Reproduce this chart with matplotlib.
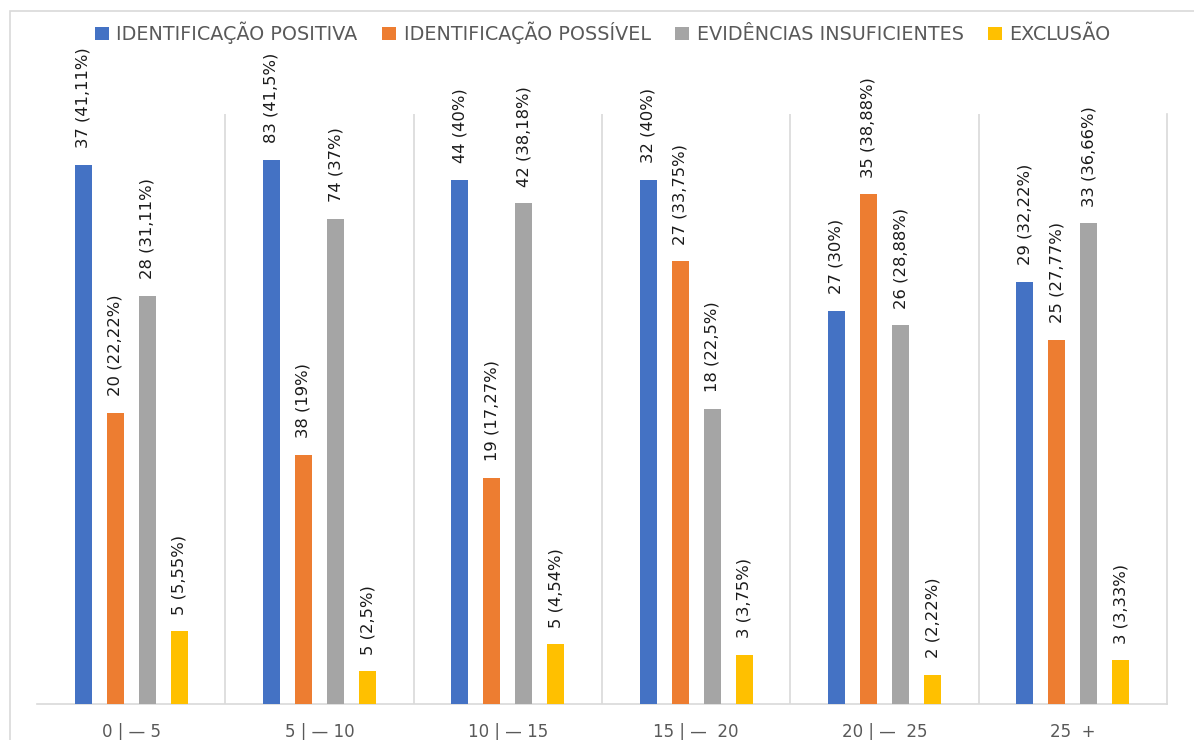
import numpy as np
import matplotlib.pyplot as plt
from matplotlib.patches import Rectangle

categories = ["0 | — 5", "5 | — 10", "10 | — 15", "15 | —  20", "20 | —  25", "25  +"]
series_names = ["IDENTIFICAÇÃO POSITIVA", "IDENTIFICAÇÃO POSSÍVEL",
                "EVIDÊNCIAS INSUFICIENTES", "EXCLUSÃO"]
colors = ["#4472C4", "#ED7D31", "#A5A5A5", "#FFC000"]

counts = [
    [37, 83, 44, 32, 27, 29],
    [20, 38, 19, 27, 35, 25],
    [28, 74, 42, 18, 26, 33],
    [5, 5, 5, 3, 2, 3],
]
percents = [
    [41.11, 41.5, 40, 40, 30, 32.22],
    [22.22, 19, 17.27, 33.75, 38.88, 27.77],
    [31.11, 37, 38.18, 22.5, 28.88, 36.66],
    [5.55, 2.5, 4.54, 3.75, 2.22, 3.33],
]


def fmt_pct(p):
    s = ("%.2f" % p).rstrip("0").rstrip(".")
    return s.replace(".", ",")


fig = plt.figure(figsize=(11.94, 7.40), dpi=100)
fig.patches.append(Rectangle((10 / 1194, -0.1), 2.0, (740 - 11) / 740 + 0.1,
                             transform=fig.transFigure, fill=False,
                             edgecolor="#D9D9D9", linewidth=1.2))
ax = fig.add_axes([37 / 1194, 36 / 740, 1130 / 1194, 590 / 740])

x = np.arange(len(categories))
width = 0.09
step = 0.17
for i, name in enumerate(series_names):
    pos = x + (i - 1.5) * step
    ax.bar(pos, percents[i], width, color=colors[i], label=name, zorder=3)
    for xp, c, p in zip(pos, counts[i], percents[i]):
        ax.annotate("%d (%s%%)" % (c, fmt_pct(p)), (xp, p),
                    xytext=(0, 12), textcoords="offset points",
                    rotation=90, ha="center", va="bottom",
                    fontsize=11.8, color="#1a1a1a", annotation_clip=False)

ax.set_xlim(-0.5, len(categories) - 0.5)
ax.set_ylim(0, 45)
for b in np.arange(0.5, len(categories) - 1, 1.0):
    ax.axvline(b, color="#D9D9D9", linewidth=1.2, zorder=1)
ax.set_yticks([])
ax.set_xticks(x)
ax.set_xticklabels(categories, fontsize=12, color="#595959")
ax.tick_params(axis="x", length=0, pad=14)
for side in ["top", "left"]:
    ax.spines[side].set_visible(False)
ax.spines["right"].set_color("#D9D9D9")
ax.spines["right"].set_linewidth(1.2)
ax.spines["bottom"].set_color("#D9D9D9")
ax.spines["bottom"].set_linewidth(1.2)

fig.legend(loc="center", bbox_to_anchor=(603 / 1194, 1 - 33 / 740), ncol=4,
           frameon=False, fontsize=13.8, handlelength=0.7, handleheight=0.7,
           handletextpad=0.4, columnspacing=1.3, labelcolor="#595959")

fig.savefig("out.png", dpi=100)
